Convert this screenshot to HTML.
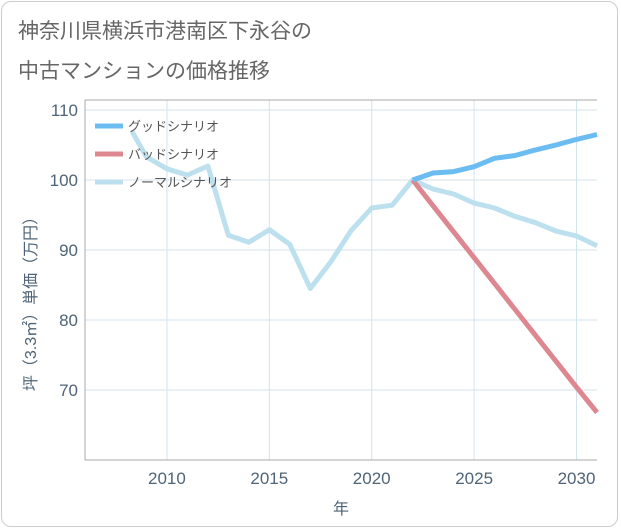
<!DOCTYPE html>
<html><head><meta charset="utf-8"><style>
body{margin:0;background:#fff;}
#wrap{position:relative;width:621px;height:530px;font-family:"Liberation Sans","Noto Sans CJK JP",sans-serif;}
#frame{position:absolute;left:1px;top:1px;width:617px;height:526px;border:1px solid #ccc;border-radius:10px;box-sizing:border-box;}
.t{position:absolute;left:18px;font-size:21px;color:#666;}
</style></head><body>
<div id="wrap">
<div id="frame"></div>
<div class="t" style="top:15px">神奈川県横浜市港南区下永谷の</div>
<div class="t" style="top:55px">中古マンションの価格推移</div>
<svg id="svg" width="621" height="530" style="position:absolute;left:0;top:0"></svg>
</div>
<script>
const xTicks=[2010,2015,2020,2025,2030];
const yTicks=[70,80,90,100,110];
const normalYears=[2008.3,2009,2010,2011,2012,2013,2014,2015,2016,2017,2018,2019,2020,2021,2022,2023,2024,2025,2026,2027,2028,2029,2030,2031];
const normalVals=[106.9,103.3,101.6,100.7,102,92.1,91.1,92.9,90.8,84.5,88.3,92.8,96,96.4,100,98.7,98,96.7,96,94.8,93.9,92.7,92,90.6];
const goodYears=[2022,2023,2024,2025,2026,2027,2028,2029,2030,2031];
const goodVals=[100,101,101.2,101.9,103.1,103.5,104.3,105,105.8,106.5];
const badYears=[2022,2023,2024,2025,2026,2027,2028,2029,2030,2031];
const badVals=[100,96.3,92.6,88.9,85.2,81.5,77.8,74.1,70.4,66.8];
const legendLabels=["グッドシナリオ","バッドシナリオ","ノーマルシナリオ"];
const NS="http://www.w3.org/2000/svg";
const svg=document.getElementById('svg');
const L=85,R=597,T=100,B=460;
const X=y=>L+(y-2006)*(R-L)/25;
const Y=v=>180-(v-100)*7;
const TC='#4f6478';
function mk(tag,attrs,parent){const e=document.createElementNS(NS,tag);for(const k in attrs)e.setAttribute(k,attrs[k]);(parent||svg).appendChild(e);return e;}
xTicks.forEach(t=>{
 const g=mk('line',{x1:X(t),x2:X(t),y1:T,y2:B,stroke:'#d3e3ec','stroke-width':1});
 
 
 const tx=mk('text',{x:X(t),y:B+24,'text-anchor':'middle','font-size':17,fill:TC});tx.textContent=t;
 
 
});
yTicks.forEach(t=>{
 const g=mk('line',{x1:L,x2:R,y1:Y(t),y2:Y(t),stroke:'#d3e3ec','stroke-width':1});
 
 
 const tx=mk('text',{x:L-7,y:Y(t)+6,'text-anchor':'end','font-size':17,fill:TC});tx.textContent=t;
 
 
});
const ax=mk('line',{x1:L,x2:L,y1:T,y2:B,stroke:'#aaa'});


const bx=mk('line',{x1:L,x2:R,y1:B,y2:B,stroke:'#aaa'});


const tp=mk('line',{x1:L,x2:R,y1:T,y2:T,stroke:'#aaa'});


const xt=mk('text',{x:341,y:514,'text-anchor':'middle','font-size':16,fill:TC});xt.textContent='年';


const yt=mk('text',{x:0,y:0,'text-anchor':'middle','font-size':16,fill:TC,transform:'translate(36,300) rotate(-90)'});yt.textContent='坪（3.3㎡）単価（万円）';


function line(ys,vs,color,name){
 const p=mk('polyline',{points:ys.map((y,i)=>X(y)+','+Y(vs[i])).join(' '),fill:'none',stroke:color,'stroke-width':5,'stroke-linejoin':'round'});
 
 
}
line(normalYears,normalVals,'#bde0ee','normal-scenario-line');
line(badYears,badVals,'#dd8890','bad-scenario-line');
line(goodYears,goodVals,'#6bbcf0','good-scenario-line');
const lc=['#6bbcf0','#dd8890','#bde0ee'];
legendLabels.forEach((lab,i)=>{
 const y=126+i*28;
 const s=mk('line',{x1:95,x2:123,y1:y,y2:y,stroke:lc[i],'stroke-width':5});
 
 
 const t=mk('text',{x:128,y:y+5,'font-size':13,fill:'#555'});t.textContent=lab;
 
 
});
</script>
</body></html>
